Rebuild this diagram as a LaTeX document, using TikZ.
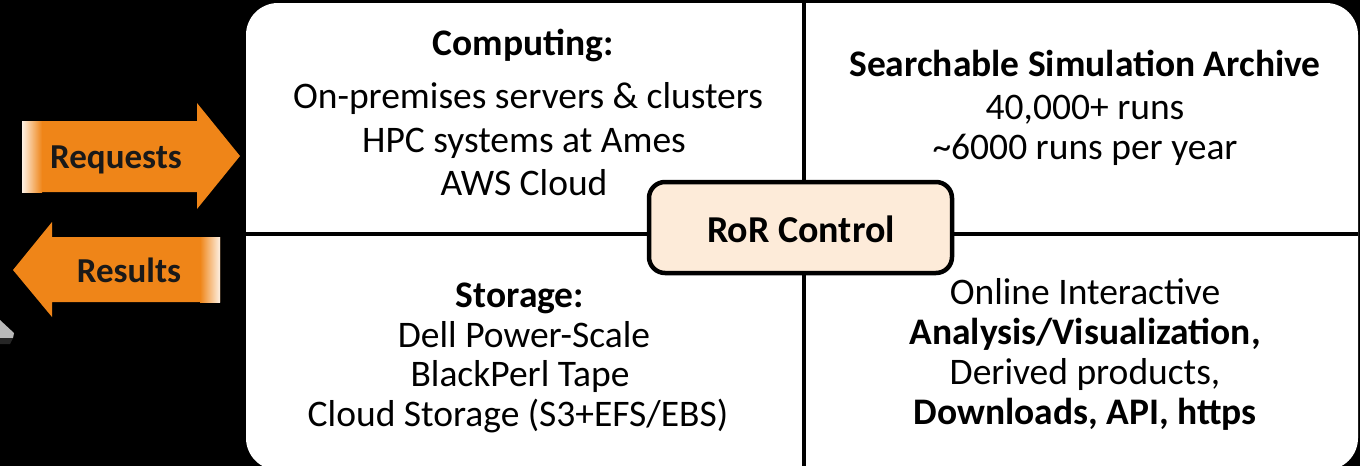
\documentclass[tikz,border=0pt]{standalone}
\usepackage{fontspec}
\setmainfont{Carlito}
\begin{document}
\begin{tikzpicture}[x=1pt,y=-1pt,
  txt/.style={anchor=base,inner sep=0pt,font=\fontsize{37.5}{43}\selectfont},
  btxt/.style={txt,font=\fontsize{37.5}{43}\selectfont\bfseries},
  arrtxt/.style={anchor=base,inner sep=0pt,text=black!90,font=\fontsize{35}{40}\selectfont\bfseries},
  divider/.style={line width=4.5pt},
  arrowfill/.style={fill=arrorange}]
\definecolor{arrorange}{HTML}{EF8518}
\definecolor{rorfill}{HTML}{FDEBD9}
\useasboundingbox (0,0) rectangle (1360,466);
\fill[black] (0,0) rectangle (1360,466);
% main white panel
\fill[white,rounded corners=32pt] (246,3) rectangle (1358,470);
% dividers
\coordinate (vt) at (804,3);
\coordinate (vb) at (804,466);
\coordinate (hl) at (246,234);
\coordinate (hr) at (1358,234);
\draw[divider] (vt) -- (vb);
\draw[divider] (hl) -- (hr);
% RoR control box
\node[draw=black,line width=4.5pt,fill=rorfill,rounded corners=16pt,
      minimum width=303pt,minimum height=91pt,inner sep=0pt] (ror) at (800.5,227.5) {};
\node[anchor=base,inner sep=0pt,font=\fontsize{38}{42}\selectfont\bfseries] (rortxt) at (801,242) {RoR Control};
% arrows
\fill[arrowfill] (22,121) -- (197,121) -- (197,103) -- (240,156) -- (197,209) -- (197,192) -- (22,192) -- cycle;
\shade[left color=arrorange!12,right color=arrorange] (22,121) rectangle (42,192);
\fill[arrowfill] (13,270) -- (52,222) -- (52,237) -- (220,237) -- (220,302) -- (52,302) -- (52,317) -- cycle;
\shade[left color=arrorange,right color=arrorange!12] (200,237) rectangle (220,302);
\node[arrtxt] (req) at (116,168) {Requests};
\node[arrtxt] (res) at (129,282) {Results};
% small icon fragment
\fill[gray!55] (0,320) -- (14,333) -- (13,338) -- (0,338) -- cycle;
\fill[gray!30!black] (0,338) -- (13,338) -- (10,344) -- (0,344) -- cycle;
% top-left
\node[btxt] (c0) at (523,55) {Computing:};
\node[txt] (c1) at (528,108) {On-premises servers \& clusters};
\node[txt] (c2) at (524,152) {HPC systems at Ames};
\node[txt] (c3) at (524,195) {AWS Cloud};
% top-right
\node[btxt] (a0) at (1085,76) {Searchable Simulation Archive};
\node[txt] (a1) at (1085,119) {40,000+ runs};
\node[txt] (a2) at (1085,159) {\textasciitilde 6000 runs per year};
% bottom-left
\node[btxt] (s0) at (520,307) {Storage:};
\node[txt] (s1) at (524,347) {Dell Power-Scale};
\node[txt] (s2) at (520,386) {BlackPerl Tape};
\node[txt] (s3) at (518,426) {Cloud Storage (S3+EFS/EBS)};
% bottom-right
\node[txt] (o0) at (1085,304) {Online Interactive};
\node[btxt] (o1) at (1085,344) {Analysis/Visualization,};
\node[txt] (o2) at (1085,384) {Derived products,};
\node[btxt] (o3) at (1085,424) {Downloads, API, https};
\end{tikzpicture}
\end{document}
